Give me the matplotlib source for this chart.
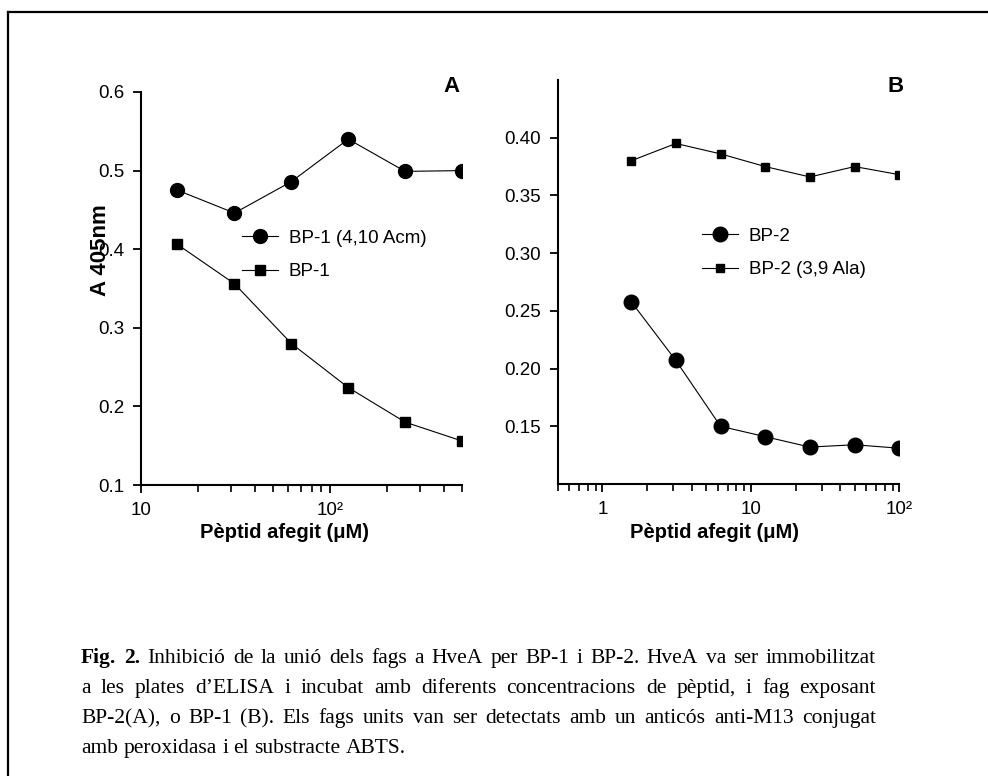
import numpy as np
import matplotlib
matplotlib.use("Agg")
import matplotlib.pyplot as plt
from matplotlib.lines import Line2D
from matplotlib.ticker import FixedLocator, LogLocator, NullFormatter

# panel A data
conc_a = [15.6, 31.25, 62.5, 125, 250, 500]
bp1_acm = [0.475, 0.446, 0.486, 0.540, 0.499, 0.500]
bp1 = [0.406, 0.356, 0.280, 0.224, 0.180, 0.156]

# panel B data
conc_b = [1.5625, 3.125, 6.25, 12.5, 25, 50, 100]
bp2 = [0.258, 0.207, 0.150, 0.141, 0.132, 0.134, 0.131]
bp2_ala = [0.380, 0.395, 0.386, 0.375, 0.366, 0.375, 0.368]

yticks_a = [0.1, 0.2, 0.3, 0.4, 0.5, 0.6]
yticks_b = [0.15, 0.20, 0.25, 0.30, 0.35, 0.40]

caption = [
    "Fig. 2. Inhibició de la unió dels fags a HveA per BP-1 i BP-2. HveA va ser immobilitzat",
    "a les plates d’ELISA i incubat amb diferents concentracions de pèptid, i fag exposant",
    "BP-2(A), o BP-1 (B). Els fags units van ser detectats amb un anticós anti-M13 conjugat",
    "amb peroxidasa i el substracte ABTS.",
]

W, H = 988, 776
SANS = "Liberation Sans"
SERIF = "Liberation Serif"

fig = plt.figure(figsize=(W / 100, H / 100), dpi=100)


def px(x, y):
    return x / W, 1 - y / H


def style_axes(ax, tsize):
    for s in ["top", "right"]:
        ax.spines[s].set_visible(False)
    for s in ["left", "bottom"]:
        ax.spines[s].set_linewidth(1.5)
    ax.tick_params(which="major", direction="out", length=6, width=1.3,
                   labelsize=tsize, pad=6)
    ax.tick_params(which="minor", direction="out", length=5, width=1.2)
    for lab in ax.get_xticklabels() + ax.get_yticklabels():
        lab.set_fontfamily(SANS)


# ---- panel A ----
axA = fig.add_axes([141 / W, 1 - 485 / H, (462 - 141) / W, (485 - 92) / H])
axA.set_xscale("log")
axA.plot(conc_a, bp1_acm, "-o", color="black", lw=0.8, ms=10, label="BP-1 (4,10 Acm)")
axA.plot(conc_a, bp1, "-s", color="black", lw=0.8, ms=7.5, label="BP-1")
axA.set_xlim(10, 500)
axA.set_ylim(0.1, 0.6)
axA.set_yticks(yticks_a)
axA.set_yticklabels(["%.1f" % v for v in yticks_a])
axA.xaxis.set_major_locator(FixedLocator([10, 100]))
axA.set_xticklabels(["10", "10²"])
axA.xaxis.set_minor_locator(LogLocator(base=10, subs=np.arange(2, 10)))
axA.xaxis.set_minor_formatter(NullFormatter())
style_axes(axA, 13.5)
axA.legend(loc="center left", bbox_to_anchor=px(242, 255), bbox_transform=fig.transFigure,
           frameon=False, borderpad=0, borderaxespad=0, handlelength=1.9,
           handletextpad=0.6, labelspacing=0.85, prop={"family": SANS, "size": 13.5})
fig.text(*px(451, 87), "A", fontsize=16, fontweight="bold", family=SANS, ha="center", va="center")

# ---- panel B ----
axB = fig.add_axes([557.7 / W, 1 - 484 / H, (899.3 - 557.7) / W, (484 - 80) / H])
axB.set_xscale("log")
axB.plot(conc_b, bp2, "-o", color="black", lw=0.8, ms=10.5, label="BP-2")
axB.plot(conc_b, bp2_ala, "-s", color="black", lw=0.8, ms=5.5, label="BP-2 (3,9 Ala)")
axB.set_xlim(0.5, 100)
axB.set_ylim(0.1, 0.45)
axB.set_yticks(yticks_b)
axB.set_yticklabels(["%.2f" % v for v in yticks_b])
axB.xaxis.set_major_locator(FixedLocator([1, 10, 100]))
axB.set_xticklabels(["1", "10", "10²"])
axB.xaxis.set_minor_locator(LogLocator(base=10, subs=np.arange(2, 10)))
axB.xaxis.set_minor_formatter(NullFormatter())
style_axes(axB, 13.5)
axB.legend(loc="center left", bbox_to_anchor=px(702, 253), bbox_transform=fig.transFigure,
           frameon=False, borderpad=0, borderaxespad=0, handlelength=1.9,
           handletextpad=0.6, labelspacing=0.85, prop={"family": SANS, "size": 13.5})
fig.text(*px(896, 87), "B", fontsize=16, fontweight="bold", family=SANS, ha="center", va="center")

# axis labels
fig.text(*px(100, 250), "A 405nm", rotation=90, fontsize=16, fontweight="bold",
         family=SANS, ha="center", va="center")
fig.text(*px(285, 533), "Pèptid afegit (μM)", fontsize=14.5, fontweight="bold",
         family=SANS, ha="center", va="center")
fig.text(*px(714, 533), "Pèptid afegit (μM)", fontsize=14.5, fontweight="bold",
         family=SANS, ha="center", va="center")

# frame lines (top and left only visible)
fig.add_artist(Line2D([8 / W, 1], [1 - 12 / H] * 2, color="black", lw=1.6, transform=fig.transFigure))
fig.add_artist(Line2D([8 / W] * 2, [0, 1 - 12 / H], color="black", lw=1.6, transform=fig.transFigure))

# caption, justified lines
renderer = fig.canvas.get_renderer()
x_left, x_right = 81, 876
baselines = [663, 693, 723, 753]
csize = 15.5
for i, line in enumerate(caption):
    words = line.split(" ")
    texts = []
    for j, w in enumerate(words):
        bold = (i == 0 and j < 2)
        t = fig.text(0, 0, w, fontsize=csize, family=SERIF,
                     fontweight="bold" if bold else "normal", va="baseline", ha="left")
        texts.append(t)
    widths = [t.get_window_extent(renderer).width for t in texts]
    if i < len(caption) - 1:
        gap = (x_right - x_left - sum(widths)) / (len(words) - 1)
    else:
        gap = csize * 100 / 72 * 0.25
    x = x_left
    for t, wd in zip(texts, widths):
        t.set_position(px(x, baselines[i]))
        x += wd + gap

fig.savefig("out.png", dpi=100)
